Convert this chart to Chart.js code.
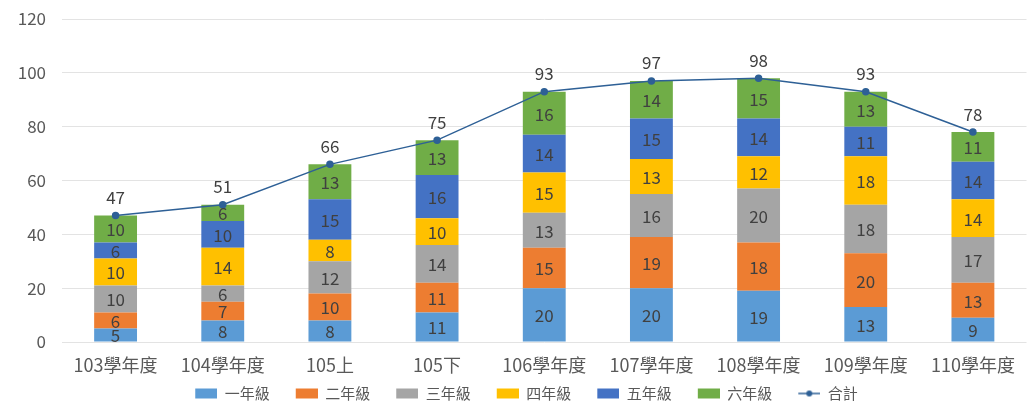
<!DOCTYPE html>
<html>
<head>
<meta charset="utf-8">
<script src="https://cdn.jsdelivr.net/npm/chart.js@4"></script>
<style>
  body { margin: 0; background: #fff; }
  #wrap { width: 1031px; height: 403px; }
</style>
</head>
<body>
<div id="wrap"><canvas id="myChart" width="1031" height="403"></canvas></div>
<script>
// 資料
const labels = ['103學年度', '104學年度', '105上', '105下', '106學年度', '107學年度', '108學年度', '109學年度', '110學年度'];
const grade1 = [5, 8, 8, 11, 20, 20, 19, 13, 9];
const grade2 = [6, 7, 10, 11, 15, 19, 18, 20, 13];
const grade3 = [10, 6, 12, 14, 13, 16, 20, 18, 17];
const grade4 = [10, 14, 8, 10, 15, 13, 12, 18, 14];
const grade5 = [6, 10, 15, 16, 14, 15, 14, 11, 14];
const grade6 = [10, 6, 13, 13, 16, 14, 15, 13, 11];
const total = [47, 51, 66, 75, 93, 97, 98, 93, 78];
const yTicks = [0, 20, 40, 60, 80, 100, 120];

const fontFamily = '"Noto Sans CJK TC", "Noto Sans", sans-serif';
const textColor = '#595959';
const lineColor = '#2E6096';
const iconW = 44; // 圖例圖示寬度 (左邊留白)

// 圖例圖示: 方塊或線+點, 畫在右側
function legendIcon(color, isLine) {
    const cv = document.createElement('canvas');
    cv.width = iconW; cv.height = 12;
    const c = cv.getContext('2d');
    c.fillStyle = color; c.strokeStyle = color;
    if (isLine) {
        c.lineWidth = 1.5;
        c.beginPath(); c.moveTo(iconW - 22, 6); c.lineTo(iconW, 6); c.stroke();
        c.beginPath(); c.arc(iconW - 11, 6, 3, 0, Math.PI * 2); c.fill();
    } else {
        c.fillRect(iconW - 22, 1, 22, 10);
    }
    return cv;
}

// 簡單的數值標籤外掛
const valueLabels = {
    id: 'valueLabels',
    afterDatasetsDraw(chart) {
        const ctx = chart.ctx;
        ctx.save();
        ctx.font = '17px ' + fontFamily;
        ctx.fillStyle = '#404040';
        ctx.textAlign = 'center';
        ctx.textBaseline = 'middle';
        chart.data.datasets.forEach((ds, i) => {
            const meta = chart.getDatasetMeta(i);
            meta.data.forEach((el, j) => {
                const v = ds.data[j];
                if (ds.type === 'line') {
                    ctx.fillText(v, el.x, el.y - 18);
                } else {
                    const mid = (el.y + el.base) / 2;
                    ctx.fillText(v, el.x, mid + 1);
                }
            });
        });
        ctx.restore();
    }
};

function bar(label, data, color) {
    return { type: 'bar', label: label, data: data, backgroundColor: color, pointStyle: legendIcon(color, false), order: 2 };
}

const ctx = document.getElementById('myChart').getContext('2d');
const myChart = new Chart(ctx, {
    data: {
        labels: labels,
        datasets: [
            bar('一年級', grade1, '#5B9BD5'),
            bar('二年級', grade2, '#ED7D31'),
            bar('三年級', grade3, '#A5A5A5'),
            bar('四年級', grade4, '#FFC000'),
            bar('五年級', grade5, '#4472C4'),
            bar('六年級', grade6, '#70AD47'),
            {
                type: 'line', label: '合計', data: total, stack: 'total', order: 1,
                borderColor: lineColor, backgroundColor: lineColor, borderWidth: 1.5,
                pointRadius: 3, pointHoverRadius: 3, pointStyle: 'circle', tension: 0
            }
        ]
    },
    options: {
        responsive: false,
        animation: false,
        devicePixelRatio: 1,
        layout: { padding: { top: 0, right: 0, bottom: -8, left: 0 } },
        datasets: {
            bar: { categoryPercentage: 1, barPercentage: 0.4 }
        },
        plugins: {
            tooltip: { enabled: false },
            legend: {
                position: 'bottom',
                labels: {
                    usePointStyle: true,
                    pointStyleWidth: iconW,
                    boxHeight: 10,
                    padding: 4,
                    color: textColor,
                    font: { family: fontFamily, size: 15, lineHeight: 1 },
                    sort: (a, b) => a.datasetIndex - b.datasetIndex,
                    generateLabels(chart) {
                        const items = Chart.defaults.plugins.legend.labels.generateLabels(chart);
                        items.forEach(it => {
                            if (it.text === '合計') it.pointStyle = legendIcon(lineColor, true);
                        });
                        return items;
                    }
                }
            }
        },
        scales: {
            x: {
                stacked: true,
                afterFit(scale) { scale.height = 40; },
                grid: { display: false },
                border: { display: false },
                ticks: { color: textColor, font: { family: fontFamily, size: 18 }, padding: 4, maxRotation: 0 }
            },
            y: {
                stacked: true,
                min: 0, max: 120,
                afterFit(scale) {
                    scale.width = 62;
                    scale.paddingTop = 19;
                    scale.paddingBottom = 0;
                },
                afterBuildTicks(scale) { scale.ticks = yTicks.map(v => ({ value: v })); },
                grid: { color: '#E3E3E3', drawTicks: false },
                border: { display: false },
                ticks: { color: textColor, font: { family: fontFamily, size: 17 }, padding: 16 }
            }
        }
    },
    plugins: [valueLabels]
});
</script>
</body>
</html>
